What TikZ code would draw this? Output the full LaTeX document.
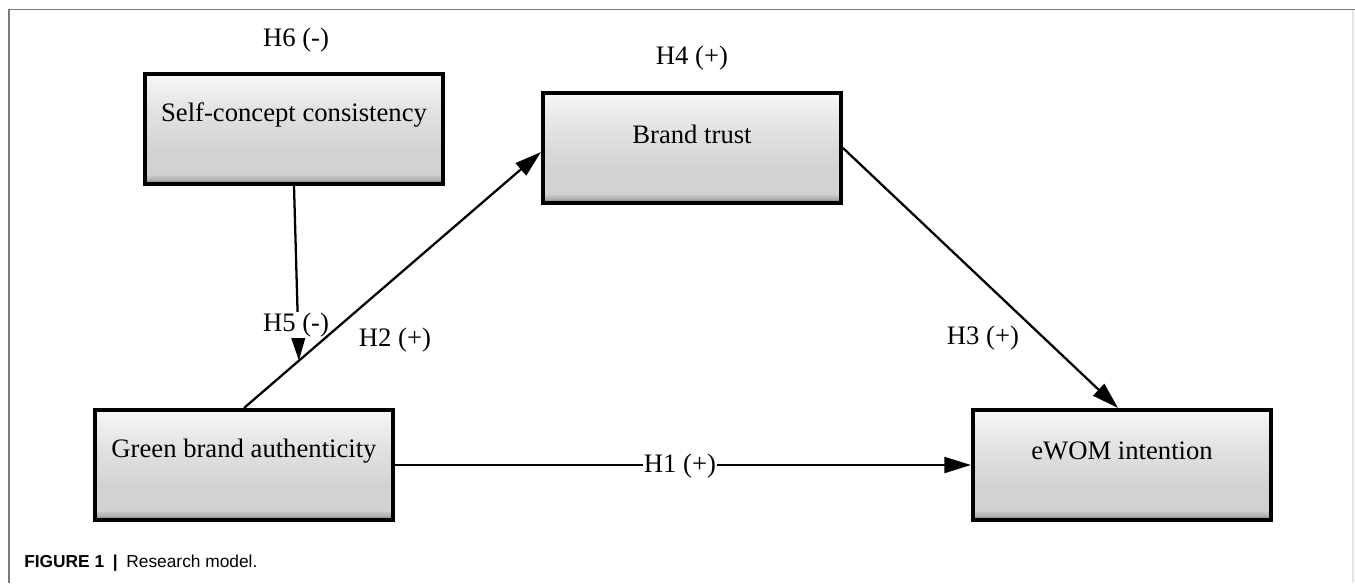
\documentclass[tikz,border=0pt]{standalone}
\usepackage{fontspec}
\setmainfont{Liberation Serif}
\newfontfamily\capfont{Liberation Sans}
\usetikzlibrary{arrows.meta,calc}
\definecolor{shTop}{HTML}{F7F7F7}
\definecolor{shMid}{HTML}{E2E2E2}
\definecolor{shLow}{HTML}{D2D2D2}
\definecolor{shEdge}{HTML}{B0B0B0}
\definecolor{shDark}{HTML}{7A7A7A}
\definecolor{frameGray}{HTML}{7A7A7A}
\definecolor{frameLight}{HTML}{E4E4E4}
\pgfdeclareverticalshading{boxshade}{100bp}{color(0bp)=(shDark); color(25bp)=(shDark); color(27bp)=(shEdge); color(29.5bp)=(shLow); color(40bp)=(shLow); color(58bp)=(shMid); color(75bp)=(shTop); color(100bp)=(shTop)}
\begin{document}
\begin{tikzpicture}[x=0.75pt,y=-0.75pt,
  box/.style={draw=black, line width=3pt, shading=boxshade, minimum width=223.5pt, minimum height=82.5pt, inner sep=0pt},
  btext/.style={font=\fontsize{20}{24}\selectfont, inner sep=0pt},
  hl/.style={font=\fontsize{20}{24}\selectfont, inner sep=1pt},
  hlw/.style={hl, fill=white},
  conn/.style={line width=1.7pt, -{Triangle[length=20pt,width=12pt]}}]
\useasboundingbox (0,0) rectangle (1355,583);
% frame
\draw[frameGray, line width=1.1pt] (1355,9.5) -- (9,9.5) -- (9,583);
\draw[frameLight, line width=0.9pt] (1353,9.5) -- (1353,583);
% boxes
\node[box] (sc) at (294,129) {};
\node[box] (bt) at (692,148) {};
\node[box] (gb) at (244,465) {};
\node[box] (ew) at (1122,465) {};
\node[btext] (sct) at ($(sc.center)+(0,-14)$) {Self-concept consistency};
\node[btext] (btt) at ($(bt.center)+(0,-14)$) {Brand trust};
\node[btext] (gbt) at ($(gb.center)+(0,-14)$) {Green brand authenticity};
\node[btext] (ewt) at ($(ew.center)+(0,-14)$) {eWOM intention};
% labels
\node[hl] (h6) at (296,40) {H6 (-)};
\node[hl] (h4) at (692,58) {H4 (+)};
\node[hl] (h2) at (395,340) {H2 (+)};
\node[hl] (h3) at (983,338) {H3 (+)};
% connectors
\coordinate (h5tip) at ($(gb.north)!0.185!([yshift=-3pt]bt.west)$);
\draw[conn] (sc.south) -- (h5tip);
\node[hlw] (h5) at (296,325) {H5 (-)};
\draw[conn] (gb.north) -- ([yshift=-3pt]bt.west);
\draw[conn] (bt.east) -- ([xshift=-3pt]ew.north);
\draw[conn] (gb.east) -- (ew.west);
\node[hlw] (h1) at (680,466) {H1 (+)};
% caption
\node[anchor=base west, inner sep=0pt, font=\capfont\fontsize{13}{15}\selectfont] (cap) at (24,567) {\textbf{FIGURE 1}\enspace\textbf{|}\enspace Research model.};
\end{tikzpicture}
\end{document}
